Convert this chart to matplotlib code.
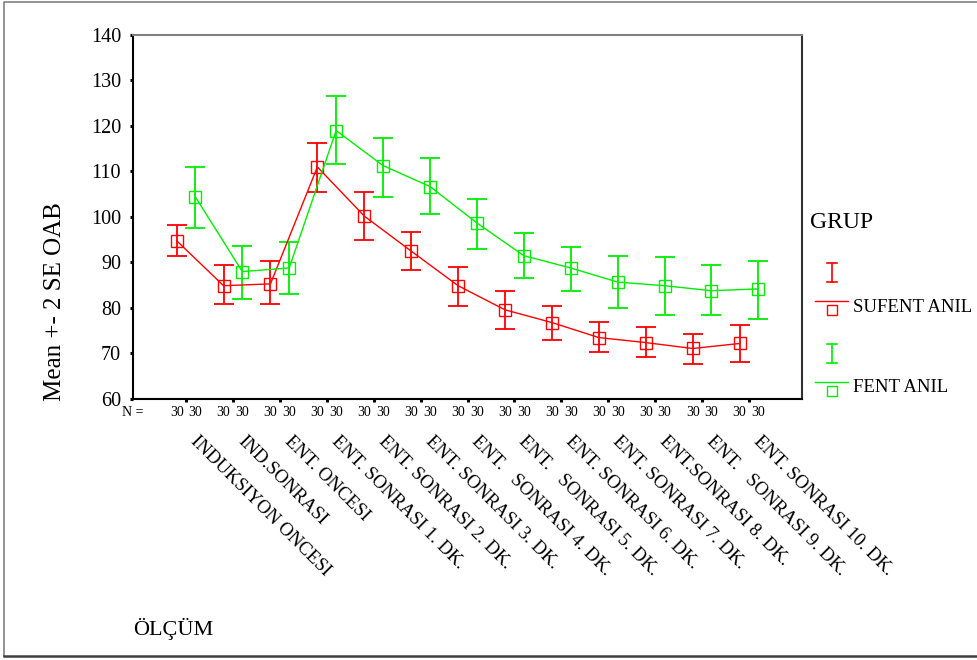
import matplotlib
matplotlib.use("Agg")
import matplotlib.pyplot as plt
import matplotlib.transforms as mtransforms
import numpy as np

plt.rcParams['font.family'] = ['Liberation Serif', 'DejaVu Serif']

categories = ["INDUKSIYON ONCESI", "IND.SONRASI", "ENT. ONCESI",
              "ENT. SONRASI 1. DK.", "ENT. SONRASI 2. DK.", "ENT. SONRASI 3. DK.",
              "ENT.   SONRASI 4. DK.", "ENT.   SONRASI 5. DK.", "ENT. SONRASI 6. DK.",
              "ENT. SONRASI 7. DK.", "ENT.SONRASI 8. DK.", "ENT.   SONRASI 9. DK.",
              "ENT. SONRASI 10. DK."]
groups = ["SUFENT ANIL", "FENT ANIL"]
n_counts = [30] * 13

sufent_mean = [94.8, 84.9, 85.3, 111.0, 100.2, 92.5, 84.9, 79.6, 76.8, 73.5, 72.4, 71.1, 72.2]
sufent_low = [91.4, 80.8, 80.8, 105.6, 94.9, 88.4, 80.4, 75.3, 73.0, 70.4, 69.2, 67.8, 68.1]
sufent_high = [98.3, 89.5, 90.3, 116.3, 105.6, 96.8, 89.1, 83.7, 80.4, 76.9, 75.8, 74.2, 76.2]

fent_mean = [104.4, 88.0, 88.8, 119.0, 111.3, 106.7, 98.7, 91.5, 88.8, 85.7, 84.9, 83.8, 84.2]
fent_low = [97.5, 82.0, 83.0, 111.7, 104.5, 100.6, 93.0, 86.5, 83.8, 80.0, 78.5, 78.5, 77.6]
fent_high = [110.9, 93.7, 94.4, 126.6, 117.4, 112.9, 104.0, 96.4, 93.3, 91.4, 91.1, 89.5, 90.3]

yticks = [60, 70, 80, 90, 100, 110, 120, 130, 140]

RED = "#ff0000"
GREEN = "#00ee00"

W, H = 977, 660
fig = plt.figure(figsize=(W / 100, H / 100), dpi=100)

L, R, T, B = 133, 802, 35, 399
ax = fig.add_axes([L / W, 1 - B / H, (R - L) / W, (B - T) / H])

x = np.arange(len(categories))
off = 0.2
series = [(sufent_mean, sufent_low, sufent_high, RED, -off),
          (fent_mean, fent_low, fent_high, GREEN, off)]
for mean, lo, hi, col, dx in series:
    mean = np.array(mean); lo = np.array(lo); hi = np.array(hi)
    xs = x + dx
    ax.errorbar(xs, mean, yerr=[mean - lo, hi - mean], fmt='none', ecolor=col,
                elinewidth=1.3, capsize=7, capthick=1.3, zorder=2)
    ax.plot(xs, mean, color=col, lw=1.0, marker='s', markersize=8,
            markerfacecolor='none', markeredgecolor=col, markeredgewidth=1.0, zorder=3)

ax.set_xlim(-1.13, 13.13)
ax.set_ylim(60, 140)
ax.set_yticks(yticks)
ax.set_yticklabels([str(v) for v in yticks], fontsize=14.5)
ax.set_xticks(x)
ax.set_xticklabels([])
ax.tick_params(axis='both', direction='out', length=2.5, width=2.2, color='black', pad=6)
for s in ['left', 'bottom']:
    ax.spines[s].set_color('black'); ax.spines[s].set_linewidth(1.5)
ax.spines['top'].set_color('#808080'); ax.spines['top'].set_linewidth(1.5)
ax.spines['right'].set_color('#303030'); ax.spines['right'].set_linewidth(1.5)

trans = mtransforms.blended_transform_factory(ax.transData, ax.transAxes)
ny = (B - 413) / (B - T)
ax.text(-1.13, ny, "N =", transform=trans, fontsize=10, ha='center', va='center')
for i, n in enumerate(n_counts):
    ax.text(x[i] - off, ny, str(n), transform=trans, fontsize=10, ha='center', va='center')
    ax.text(x[i] + off, ny, str(n), transform=trans, fontsize=10, ha='center', va='center')

ly = (B - 433) / (B - T)
for i, c in enumerate(categories):
    ax.text(x[i] + 0.28, ly, c, transform=trans, fontsize=13.5, rotation=-45,
            rotation_mode='anchor', ha='left', va='top')

# overlay in pixel coordinates for frame, titles, legend
ov = fig.add_axes([0, 0, 1, 1], facecolor='none')
ov.set_xlim(0, W); ov.set_ylim(H, 0); ov.axis('off')
ov.plot([4, 4, 977], [656, 2, 2], color='#808080', lw=1.2)
ov.plot([4, 977], [656, 656], color='#404040', lw=1.8)

ov.text(55, 302, "Mean +- 2 SE OAB", fontsize=18, rotation=90, ha='center', va='center')
ov.text(133, 629, "ÖLÇÜM", fontsize=16, ha='left', va='center')
ov.text(810, 222, "GRUP", fontsize=17, ha='left', va='center')

for (col, name, ytop) in [(RED, groups[0], 263), (GREEN, groups[1], 344)]:
    ov.plot([832, 832], [ytop, ytop + 19], color=col, lw=1.2)
    ov.plot([827, 837], [ytop, ytop], color=col, lw=1.2)
    ov.plot([827, 837], [ytop + 19, ytop + 19], color=col, lw=1.2)
    ov.plot([815, 848], [ytop + 38, ytop + 38], color=col, lw=1.0)
    ov.plot([832], [ytop + 47], marker='s', markersize=7.5, markerfacecolor='none',
            markeredgecolor=col, markeredgewidth=1.0)
    ov.text(853, ytop + 44, name, fontsize=13.5, ha='left', va='center')

fig.savefig("out.png", dpi=100)
